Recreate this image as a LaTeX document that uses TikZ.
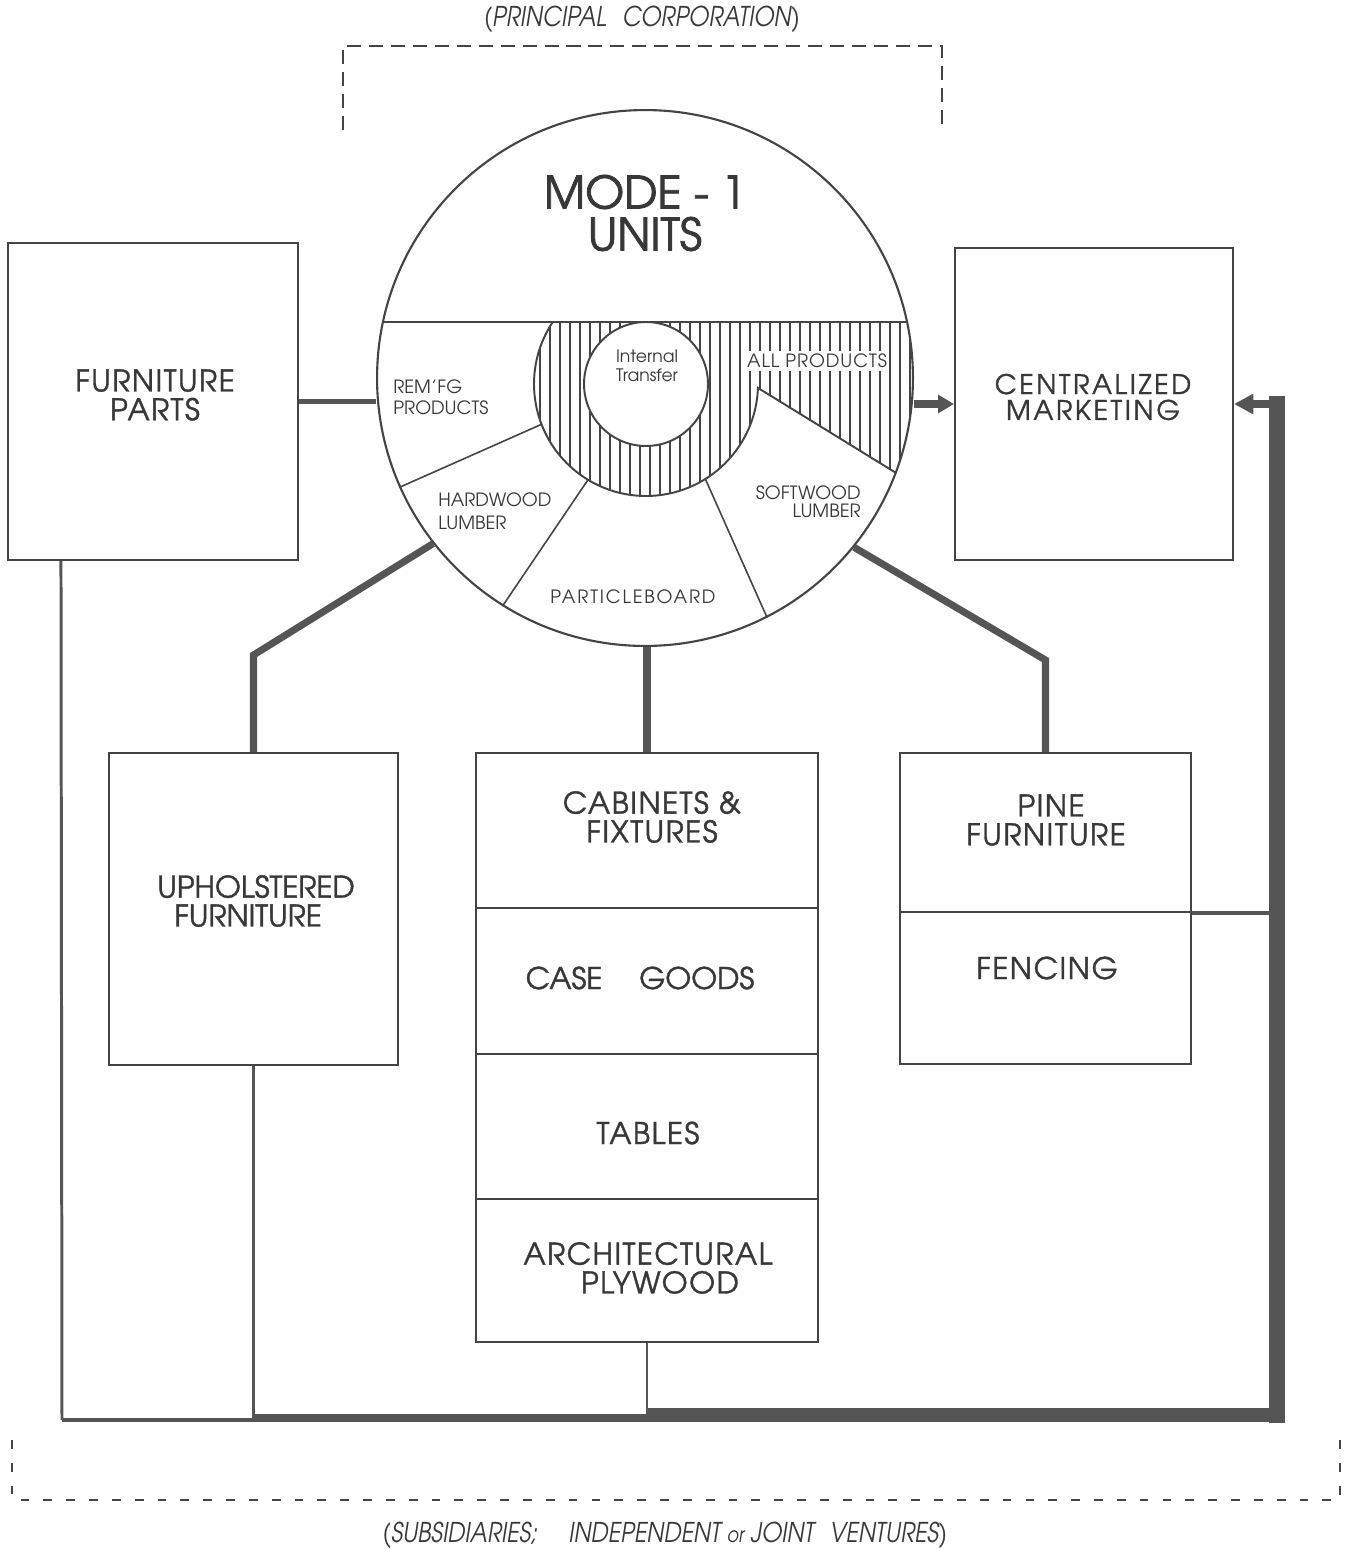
\documentclass[tikz,border=0pt]{standalone}
\usepackage{fontspec}
\setmainfont{texgyreadventor}[Extension=.otf, UprightFont=*-regular, BoldFont=*-bold, ItalicFont=*-italic, BoldItalicFont=*-bolditalic]
\newfontfamily\smallsp{texgyreadventor}[Extension=.otf, UprightFont=*-regular, LetterSpace=5]
\newfontfamily\spaced{texgyreadventor}[Extension=.otf, UprightFont=*-regular, LetterSpace=10]
\newfontfamily\med{texgyreadventor}[Extension=.otf, UprightFont=*-regular, FakeBold=1.2]
\newfontfamily\medsp{texgyreadventor}[Extension=.otf, UprightFont=*-regular, FakeBold=1.2, LetterSpace=5]
\newfontfamily\medspB{texgyreadventor}[Extension=.otf, UprightFont=*-regular, FakeBold=1.2, LetterSpace=10]
\newfontfamily\heavy{texgyreadventor}[Extension=.otf, UprightFont=*-regular, FakeBold=1.8]
\newfontfamily\capit{texgyreadventor}[Extension=.otf, UprightFont=*-italic, FakeStretch=0.85]
\usetikzlibrary{arrows.meta,calc}
\definecolor{ink}{HTML}{383838}
\definecolor{ln}{HTML}{444444}
\definecolor{thk}{HTML}{555555}
\begin{document}
\begin{tikzpicture}[x=0.02cm,y=0.02cm,
  box/.style={draw=ln, line width=1.2pt, inner sep=0pt},
  lbl/.style={text=ink, align=center, inner sep=0pt, font=\medsp\fontsize{17}{16.4}\selectfont},
  seg/.style={text=ink, inner sep=0pt, font=\fontsize{10.4}{11.9}\selectfont},
  conn/.style={draw=thk, line width=4pt},
  thinconn/.style={draw=thk, line width=1.7pt},
  segline/.style={draw=ln, line width=0.9pt},
  hatchline/.style={draw=ln, line width=0.6pt},
  dashT/.style={draw=ln, line width=1.4pt, dash pattern=on 8pt off 4.5pt},
  dashB/.style={draw=ln, line width=1.2pt, dash pattern=on 5pt off 8pt},
  capt/.style={font=\capit\fontsize{15.5}{16}\selectfont, text=ink, inner sep=0pt},
  modef/.style={font=\heavy\fontsize{25.5}{22}\selectfont, text=ink, inner sep=0pt},
]
\useasboundingbox (0,0) rectangle (1348,-1549);
\fill[white] (0,0) rectangle (1348,-1549);

% ---------- hatched area of the circle
\coordinate (rc) at (646,-384);
\begin{scope}
  \clip (552.7,-322) -- (907.1,-322) arc[start angle=12.06, end angle=-20.7, radius=268]
        -- ($(rc)+(358:112)$) arc[start angle=358, end angle=146.4, radius=112] -- cycle;
  \foreach \hx in {530,540,...,920} \draw[hatchline] (\hx,-315) -- (\hx,-500);
\end{scope}

% ---------- big circle
\node[circle, draw=ln, line width=1.2pt, minimum size=10.72cm, inner sep=0pt] (mode) at (645,-378) {};
\draw[draw=ln, line width=1.1pt] (382.9,-322) -- (907.1,-322);
\draw[draw=ln, line width=1.1pt] ($(rc)+(146.4:112)$) arc[start angle=146.4, end angle=358, radius=112] -- (895.7,-472.7);
\draw[segline] ($(rc)+(201.1:112)$) -- (mode.204.1);
\draw[segline] ($(rc)+(238.8:112)$) -- (mode.238.9);
\draw[segline] ($(rc)+(302:112)$) -- (mode.297.1);
\node[circle, draw=ln, line width=1.1pt, fill=white, minimum size=2.48cm, inner sep=0pt] (itc) at (rc) {};

\node[modef] (modet) at (645,-192) {MODE - 1};
\node[modef] (unitst) at (645,-234) {UNITS};
\node[seg, anchor=west, align=left] (remt) at (393,-397.5) {REM’FG\\PRODUCTS};
\node[seg, align=center, font=\fontsize{9.8}{10.8}\selectfont] (itt) at (647,-365.5) {Internal\\Transfer};
\node[seg, font=\smallsp\fontsize{10.4}{11}\selectfont, fill=white, inner sep=1.5pt] (allt) at (817,-361) {ALL PRODUCTS};
\node[seg, anchor=west, align=left, font=\fontsize{10.4}{13}\selectfont] (hwt) at (438,-511.5) {HARDWOOD\\LUMBER};
\node[seg, font=\spaced\fontsize{10.4}{11}\selectfont] (pbt) at (633,-597) {PARTICLEBOARD};
\node[seg, anchor=east, align=right, font=\fontsize{10.4}{10.2}\selectfont] (swt) at (861,-502) {SOFTWOOD\\LUMBER};

% ---------- boxes
\node[box, minimum width=5.8cm, minimum height=6.34cm] (fp) at (153,-401.5) {};
\node[box, minimum width=5.56cm, minimum height=6.24cm] (cm) at (1094,-404) {};
\node[box, minimum width=5.78cm, minimum height=6.24cm] (uph) at (253.5,-909) {};
\node[box, minimum width=6.84cm, minimum height=3.1cm] (cab) at (647,-830.5) {};
\node[box, minimum width=6.84cm, minimum height=2.92cm] (case) at (647,-981) {};
\node[box, minimum width=6.84cm, minimum height=2.9cm] (tab) at (647,-1126.5) {};
\node[box, minimum width=6.84cm, minimum height=2.86cm] (arch) at (647,-1270.5) {};
\node[box, minimum width=5.82cm, minimum height=3.18cm] (pine) at (1045.5,-832.5) {};
\node[box, minimum width=5.82cm, minimum height=3.04cm] (fen) at (1045.5,-988) {};

\node[lbl] (fpt) at (155,-395) {FURNITURE\\PARTS};
\node[lbl, font=\medspB\fontsize{15.3}{14.7}\selectfont] (cmt) at (1093,-397) {CENTRALIZED\\MARKETING};
\node[lbl, font=\med\fontsize{17}{16.4}\selectfont] (upht) at (256,-901) {UPHOLSTERED\\FURNITURE\hspace*{9pt}};
\node[lbl] (cabt) at (652,-817) {CABINETS \&\\FIXTURES};
\node[lbl, font=\med\fontsize{17}{16.4}\selectfont] (caset) at (640,-978) {CASE\hspace{21pt}GOODS};
\node[lbl] (tabt) at (648,-1133) {TABLES};
\node[lbl] (archt) at (648,-1268) {ARCHITECTURAL\\\hspace*{13.6pt}PLYWOOD};
\node[lbl] (pinet) at (1046,-820) {\hspace*{5.7pt}PINE\\FURNITURE};
\node[lbl] (fent) at (1047,-968) {FENCING};

% ---------- captions and brackets
\node[capt] (topcap) at (642,-19) {(PRINCIPAL\hspace{9pt}CORPORATION)};
\node[capt] (botcap) at (665,-1535) {(SUBSIDIARIES;\hspace{18pt}INDEPENDENT {\fontsize{12}{12}\selectfont or} JOINT\hspace{9pt}VENTURES)};
\draw[dashT] (343,-130) -- (343,-46) -- (942,-46) -- (942,-130);
\draw[dashB] (12,-1440) -- (12,-1500) -- (1340,-1500) -- (1340,-1440);

% ---------- connectors from the circle
\coordinate (k1) at (253,-655);
\coordinate (k2) at (1047,-660);
\draw[conn, line width=3.4pt] (fp.east) -- (fp.east -| mode.west);
\draw[conn, -{Triangle[length=9pt,width=10pt]}] (mode.east |- cm.west) -- (cm.west);
\draw[conn] (mode.218.5) -- (uph.north |- k1) -- (uph.north);
\draw[conn] (cab.north |- mode.south) -- (cab.north);
\draw[conn] (mode.321.9) -- (pine.north |- k2) -- (pine.north);

% ---------- return network
\coordinate (bl) at (62,-1420);
\coordinate (br) at (1277,-1423);
\draw[thinconn] ($(fp.south west)+(54,0)$) -- (bl);
\draw[thinconn, line width=1.9pt] (uph.south) -- (uph.south |- bl);
\draw[thinconn] (arch.south) -- ($(arch.south |- bl)+(0,4)$);
\draw[draw=thk, line width=2.3pt] (bl) -- (uph.south |- bl);
\draw[draw=thk, line width=4.5pt] ($(uph.south |- bl)+(0,2)$) -- ($(arch.south |- bl)+(0,2)$);
\draw[draw=thk, line width=7.9pt] ($(arch.south |- bl)+(0,5)$) -- ($(br)+(8,8)$);
\draw[draw=thk, line width=9pt] (br) -- ($(br |- cm.east)+(0,8)$);
\draw[draw=thk, line width=2.3pt] (pine.south east) -- (br |- pine.south east);
\draw[draw=thk, line width=5pt, -{Triangle[length=11pt,width=11pt]}] (br |- cm.east) -- (cm.east);
\end{tikzpicture}
\end{document}
